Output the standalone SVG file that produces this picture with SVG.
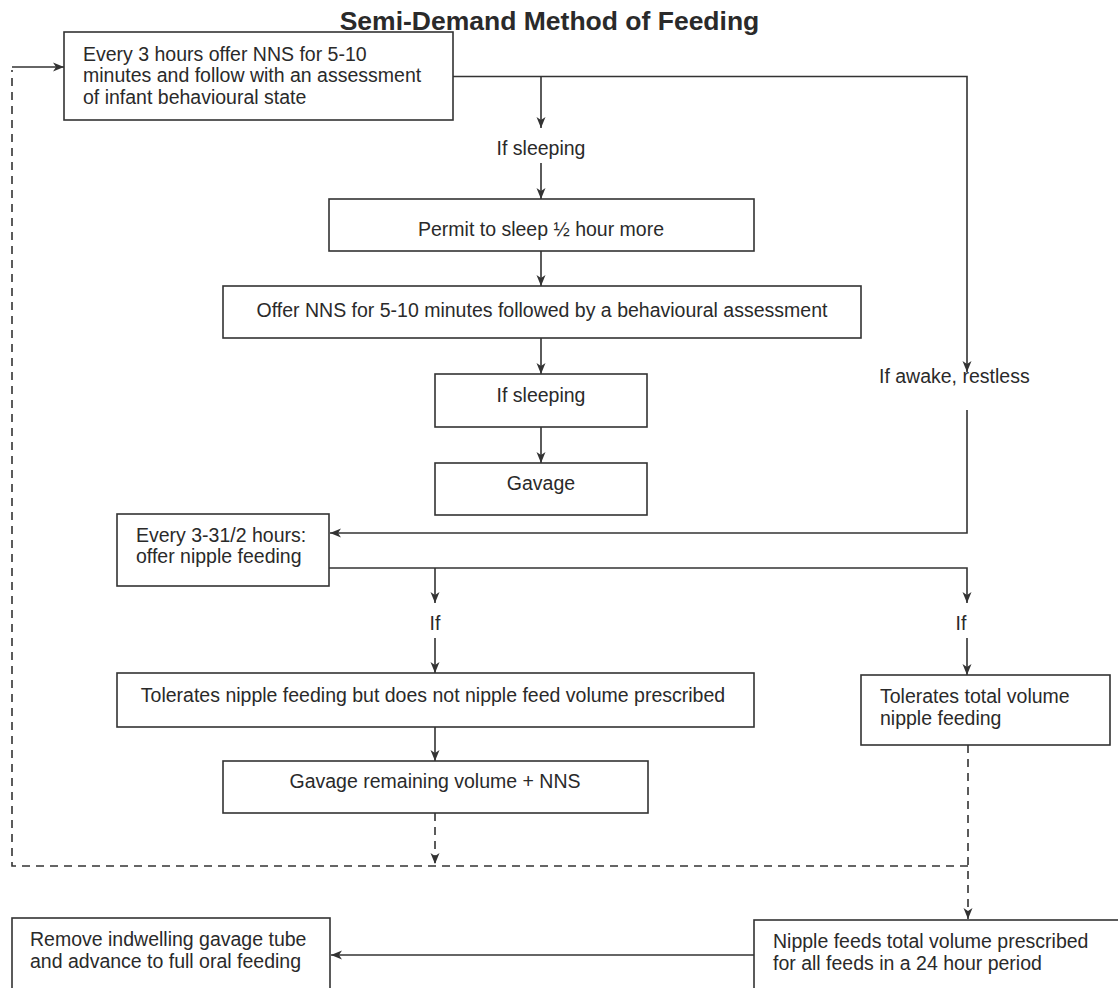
<svg xmlns="http://www.w3.org/2000/svg" width="1118" height="988" viewBox="0 0 1118 988">
<style>
  .box { fill: #fff; stroke: #333; stroke-width: 1.6; }
  .t { font-family: "Liberation Sans", Arial, sans-serif; font-size: 19.5px; fill: #2a2a2a; }
  .c { text-anchor: middle; }
  .title { font-family: "Liberation Sans", Arial, sans-serif; font-size: 26.5px; font-weight: bold; fill: #2a2a2a; text-anchor: middle; }
  .ln { fill: none; stroke: #333; stroke-width: 1.6; }
  .dash { fill: none; stroke: #333; stroke-width: 1.6; stroke-dasharray: 8 6; }
</style>
<defs>
  <marker id="arr" markerUnits="userSpaceOnUse" markerWidth="12" markerHeight="10" refX="11" refY="5" orient="auto">
    <path d="M0,0.5 L11,5 L0,9.5 L3,5 Z" fill="#333"/>
  </marker>
</defs>
<rect width="1118" height="988" fill="#fff"/>

<text class="title" x="549.5" y="30">Semi-Demand Method of Feeding</text>

<g id="connectors">
  <!-- from box1 -->
  <path class="ln" d="M435,76.5 H967 V372" marker-end="url(#arr)"/>
  <path class="ln" d="M541,76.5 V128" marker-end="url(#arr)"/>
  <path class="ln" d="M541,163 V199" marker-end="url(#arr)"/>
  <path class="ln" d="M541,251 V286" marker-end="url(#arr)"/>
  <path class="ln" d="M541,338 V374" marker-end="url(#arr)"/>
  <path class="ln" d="M541,427 V463" marker-end="url(#arr)"/>
  <!-- awake branch to box6 -->
  <path class="ln" d="M967,410 V533 H330" marker-end="url(#arr)"/>
  <!-- from box6 -->
  <path class="ln" d="M329,568 H967 V603" marker-end="url(#arr)"/>
  <path class="ln" d="M435,568 V603" marker-end="url(#arr)"/>
  <path class="ln" d="M435,638 V673" marker-end="url(#arr)"/>
  <path class="ln" d="M967,638 V675" marker-end="url(#arr)"/>
  <path class="ln" d="M435,727 V761" marker-end="url(#arr)"/>
  <!-- dashed loop -->
  <path class="dash" d="M435,813 V864" marker-end="url(#arr)"/>
  <path class="dash" d="M968,866 H12 V70"/>
  <path class="ln" d="M12,67 H64" marker-end="url(#arr)"/>
  <path class="dash" d="M968,745 V919" marker-end="url(#arr)"/>
  <!-- to box11 -->
  <path class="ln" d="M754,955 H331" marker-end="url(#arr)"/>
</g>

<g id="n1">
  <rect class="box" x="64" y="32" width="389" height="88"/>
  <text class="t" x="83" y="61">Every 3 hours offer NNS for 5-10</text>
  <text class="t" x="83" y="82">minutes and follow with an assessment</text>
  <text class="t" x="83" y="104">of infant behavioural state</text>
</g>
<g id="l1"><text class="t c" x="541" y="155">If sleeping</text></g>
<g id="n2">
  <rect class="box" x="329" y="199" width="425" height="52"/>
  <text class="t c" x="541" y="236">Permit to sleep ½ hour more</text>
</g>
<g id="n3">
  <rect class="box" x="223" y="286" width="638" height="52"/>
  <text class="t c" x="542" y="317">Offer NNS for 5-10 minutes followed by a behavioural assessment</text>
</g>
<g id="n4">
  <rect class="box" x="435" y="374" width="212" height="53"/>
  <text class="t c" x="541" y="402">If sleeping</text>
</g>
<g id="n5">
  <rect class="box" x="435" y="463" width="212" height="52"/>
  <text class="t c" x="541" y="490">Gavage</text>
</g>
<g id="l2"><text class="t" x="879" y="383">If awake, restless</text></g>
<g id="n6">
  <rect class="box" x="117" y="514" width="212" height="72"/>
  <text class="t" x="136" y="542">Every 3-31/2 hours:</text>
  <text class="t" x="136" y="563">offer nipple feeding</text>
</g>
<g id="l3"><text class="t c" x="435" y="630">If</text></g>
<g id="l4"><text class="t c" x="961" y="630">If</text></g>
<g id="n7">
  <rect class="box" x="117" y="673" width="637" height="54"/>
  <text class="t c" x="433" y="702">Tolerates nipple feeding but does not nipple feed volume prescribed</text>
</g>
<g id="n8">
  <rect class="box" x="223" y="761" width="425" height="52"/>
  <text class="t c" x="435" y="788">Gavage remaining volume + NNS</text>
</g>
<g id="n9">
  <rect class="box" x="861" y="675" width="249" height="70"/>
  <text class="t" x="880" y="703">Tolerates total volume</text>
  <text class="t" x="880" y="725">nipple feeding</text>
</g>
<g id="n10">
  <rect class="box" x="754" y="920" width="380" height="90"/>
  <text class="t" x="773" y="948">Nipple feeds total volume prescribed</text>
  <text class="t" x="773" y="970">for all feeds in a 24 hour period</text>
</g>
<g id="n11">
  <rect class="box" x="12" y="918" width="318" height="90"/>
  <text class="t" x="30" y="946">Remove indwelling gavage tube</text>
  <text class="t" x="30" y="968">and advance to full oral feeding</text>
</g>
</svg>
